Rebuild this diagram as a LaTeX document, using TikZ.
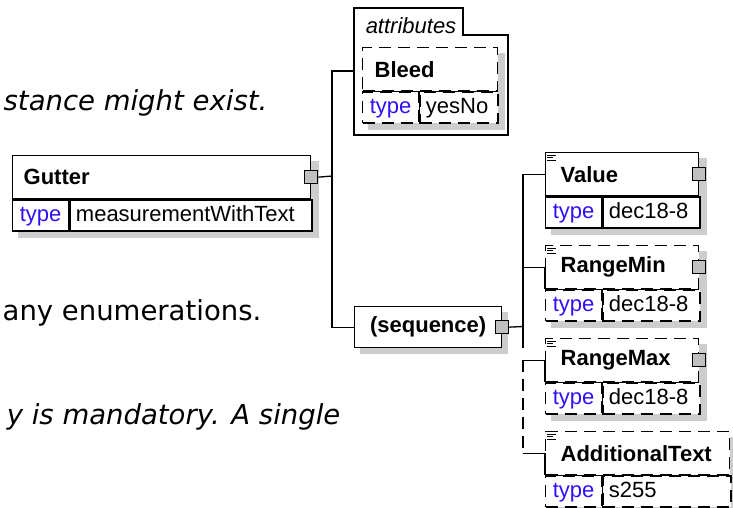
\documentclass[tikz,border=0pt]{standalone}
\usepackage{fontspec}
\setmainfont{Liberation Sans}
\newfontfamily\notefont{DejaVu Sans}[ItalicFont={DejaVu Sans Oblique}]
\usetikzlibrary{backgrounds}
\definecolor{typeblue}{RGB}{48,16,250}
\definecolor{shadowgray}{RGB}{205,205,205}
\definecolor{expgray}{RGB}{192,192,192}
\begin{document}
\begin{tikzpicture}[x=1pt, y=-1pt, line width=1.3pt,
          font=\fontsize{22}{24}\selectfont,
          elhead/.style={draw, fill=white, anchor=north west, minimum height=43pt,
            align=left, font=\fontsize{22}{24}\selectfont\bfseries},
          typecell/.style={draw, fill=white, anchor=north west, minimum width=56pt,
            minimum height=31pt, inner sep=0pt, text height=17pt, text depth=4pt, text=typeblue},
          valcell/.style={draw, fill=white, anchor=north west, minimum height=31pt,
            inner xsep=6pt, inner ysep=0pt, text height=17pt, text depth=4pt, align=left},
          optional/.style={dash pattern=on 12pt off 7pt},
          expander/.style={draw, fill=expgray, minimum size=13pt, inner sep=0pt},
          docline/.style={line width=0.8pt},
          shadowbox/.style={fill=shadowgray},
          note/.style={inner sep=0pt, font=\notefont\fontsize{27.5}{30}\selectfont}]
        \useasboundingbox (0,0) rectangle (733,507);
        % cut-off description text on the left
        \node[note, anchor=base east] (note1) at (268,110) {\itshape stance might exist.};
        \node[note, anchor=base east] (note2) at (262,320) {any enumerations.};
        \node[note, anchor=base east] (note3) at (341,424) {\itshape y is mandatory. A single};
        % root element
        \node[elhead, text width=276pt, inner xsep=11pt] (gutter) at (12,155) {Gutter};
        \node[typecell] (guttertype) at (gutter.south west) {type};
        \node[valcell, text width=230pt] (gutterval) at (guttertype.north east) {measurementWithText};
        \node[expander] (gutterexp) at (gutter.east) {};
        % attributes group
        \draw (354,8) -- (463,8) -- (463,35) -- (508,35) -- (508,135) -- (354,135) -- cycle;
        \node[font=\fontsize{22}{24}\selectfont\itshape, anchor=base] (attrlabel) at (411,33) {attributes};
        \coordinate (attrin) at (354,71);
        \node[elhead, optional, text width=111pt, inner xsep=12pt] (bleed) at (362,47) {Bleed};
        \node[typecell, optional] (bleedtype) at (bleed.south west) {type};
        \node[valcell, optional, text width=66pt] (bleedval) at (bleedtype.north east) {yesNo};
        \draw (bleed.south west) -- (bleed.south east);
        \draw (bleedtype.north east) -- (bleedtype.south east);
        % sequence
        \node[elhead, minimum width=147pt, minimum height=41pt, align=center] (seq) at (354,306) {(sequence)};
        \node[expander] (seqexp) at (seq.east) {};
        \coordinate (fork) at (332,176);
        \draw (gutterexp.east) -- (fork);
        \draw (attrin) -| (fork) |- (seq.west);
        % children of the sequence
        \node[elhead, text width=123pt, inner xsep=15pt] (value) at (545,152) {Value};
        \node[typecell] (valuetype) at (value.south west) {type};
        \node[valcell, text width=85pt] (valueval) at (valuetype.north east) {dec18-8};
        \node[expander] (valueexp) at (value.east) {};
        \node[elhead, optional, text width=123pt, inner xsep=15pt] (rangemin) at (545,245) {RangeMin};
        \node[typecell, optional] (rangemintype) at (rangemin.south west) {type};
        \node[valcell, optional, text width=85pt] (rangeminval) at (rangemintype.north east) {dec18-8};
        \node[expander] (rangeminexp) at (rangemin.east) {};
        \draw (rangemin.south west) -- (rangemin.south east);
        \draw (rangemintype.north east) -- (rangemintype.south east);
        \node[elhead, optional, text width=123pt, inner xsep=15pt] (rangemax) at (545,338) {RangeMax};
        \node[typecell, optional] (rangemaxtype) at (rangemax.south west) {type};
        \node[valcell, optional, text width=85pt] (rangemaxval) at (rangemaxtype.north east) {dec18-8};
        \node[expander] (rangemaxexp) at (rangemax.east) {};
        \draw (rangemax.south west) -- (rangemax.south east);
        \draw (rangemaxtype.north east) -- (rangemaxtype.south east);
        \node[elhead, optional, text width=154pt, inner xsep=15pt] (addtext) at (545,431) {AdditionalText};
        \node[typecell, optional] (addtexttype) at (addtext.south west) {type};
        \node[valcell, optional, text width=116pt] (addtextval) at (addtexttype.north east) {s255};
        \draw (addtext.south west) -- (addtext.south east);
        \draw (addtexttype.north east) -- (addtexttype.south east);
        % documentation marks
        \draw[docline] ([shift={(2,3)}]value.north west) -- ++(9,0) ++(-9,2.5) -- ++(6,0) ++(-6,2.5) -- ++(9,0);
        \draw[docline] ([shift={(2,3)}]rangemin.north west) -- ++(9,0) ++(-9,2.5) -- ++(6,0) ++(-6,2.5) -- ++(9,0);
        \draw[docline] ([shift={(2,3)}]rangemax.north west) -- ++(9,0) ++(-9,2.5) -- ++(6,0) ++(-6,2.5) -- ++(9,0);
        \draw[docline] ([shift={(2,3)}]addtext.north west) -- ++(9,0) ++(-9,2.5) -- ++(6,0) ++(-6,2.5) -- ++(9,0);
        % sequence connectors
        \coordinate (fork2) at (523,326.5);
        \coordinate (gap) at (523,348);
        \draw (seqexp.east) -- (fork2);
        \draw (fork2 |- value.west) -- (gap);
        \draw (fork2 |- value.west) -- (value.west);
        \draw (fork2 |- rangemin.west) -| (rangemin.south west);
        \draw (fork2 |- rangemax.west) -| (rangemax.south west);
        \draw (fork2 |- addtext.west) -| (addtext.south west);
        \draw[optional] (fork2 |- rangemax.west) -- (fork2 |- addtext.west);
        % shadows
        \begin{scope}[on background layer]
          \fill[shadowbox] ([shift={(6,6)}]gutter.north west) rectangle ([shift={(6,6)}]gutterval.south east);
          \fill[shadowbox] ([shift={(6,6)}]bleed.north west) rectangle ([shift={(6,6)}]bleedval.south east);
          \fill[shadowbox] ([shift={(6,6)}]seq.north west) rectangle ([shift={(6,6)}]seq.south east);
          \fill[shadowbox] ([shift={(6,6)}]value.north west) rectangle ([shift={(6,6)}]valueval.south east);
          \fill[shadowbox] ([shift={(6,6)}]rangemin.north west) rectangle ([shift={(6,6)}]rangeminval.south east);
          \fill[shadowbox] ([shift={(6,6)}]rangemax.north west) rectangle ([shift={(6,6)}]rangemaxval.south east);
          \fill[shadowbox] ([shift={(6,6)}]addtext.north west) rectangle ([shift={(6,6)}]addtextval.south east);
        \end{scope}
      \end{tikzpicture}
\end{document}
